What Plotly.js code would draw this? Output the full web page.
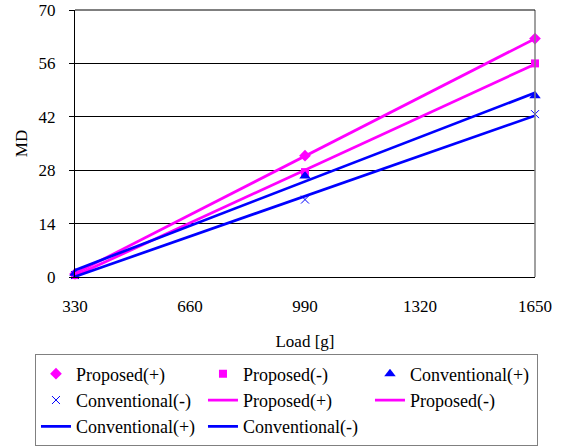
<!DOCTYPE html>
<html>
<head>
<meta charset="utf-8">
<script src="https://cdn.plot.ly/plotly-3.0.1.min.js"></script>
</head>
<body style="margin:0">
<div id="chart" style="width:568px;height:447px;"></div>
<script>
var loads = [330, 990, 1650];
var proposedPlus = [0.8, 31.8, 62.5];
var proposedMinus = [0.5, 27.5, 56.0];
var conventionalPlus = [1.0, 26.5, 47.5];
var conventionalMinus = [0.5, 20.3, 42.7];

var trendX = [330, 1650];
var trendProposedPlus = [0.9, 62.5];
var trendProposedMinus = [0.3, 55.8];
var trendConventionalPlus = [1.8, 48.3];
var trendConventionalMinus = [0.1, 42.3];

var xTicks = [330, 660, 990, 1320, 1650];
var yTicks = [0, 14, 28, 42, 56, 70];

var PINK = '#FF00FF', BLUE = '#0000FF';
var FAM = 'Liberation Serif';

var traces = [
  {x: loads, y: proposedPlus, name: 'Proposed(+)', mode: 'markers', cliponaxis: false,
   marker: {symbol: 'diamond', size: 9, color: PINK}},
  {x: loads, y: proposedMinus, name: 'Proposed(-)', mode: 'markers', cliponaxis: false,
   marker: {symbol: 'square', size: 8, color: PINK}},
  {x: loads, y: conventionalPlus, name: 'Conventional(+)', mode: 'markers', cliponaxis: false,
   marker: {symbol: 'triangle-up', size: 10, color: BLUE}},
  {x: loads, y: conventionalMinus, name: 'Conventional(-)', mode: 'markers', cliponaxis: false,
   marker: {symbol: 'x-thin', size: 8, color: BLUE, line: {color: BLUE, width: 1}}},
  {x: trendX, y: trendProposedPlus, name: 'Proposed(+)', mode: 'lines', cliponaxis: false,
   line: {color: PINK, width: 2.7}},
  {x: trendX, y: trendProposedMinus, name: 'Proposed(-)', mode: 'lines', cliponaxis: false,
   line: {color: PINK, width: 2.7}},
  {x: trendX, y: trendConventionalPlus, name: 'Conventional(+)', mode: 'lines', cliponaxis: false,
   line: {color: BLUE, width: 2.7}},
  {x: trendX, y: trendConventionalMinus, name: 'Conventional(-)', mode: 'lines', cliponaxis: false,
   line: {color: BLUE, width: 2.7}}
];

var layout = {
  width: 568, height: 447,
  margin: {l: 75, r: 33, t: 10, b: 170, autoexpand: false},
  paper_bgcolor: '#fff', plot_bgcolor: '#fff',
  font: {family: FAM, size: 17, color: '#000'},
  showlegend: true,
  xaxis: {
    range: [330, 1650], tickvals: xTicks, ticktext: xTicks.map(String),
    showgrid: false, zeroline: false, showline: true, linecolor: '#000', linewidth: 1,
    ticks: '', ticklabelstandoff: 14, automargin: false,
    tickfont: {family: FAM, size: 17, color: '#000'},
    title: {text: 'Load [g]', font: {family: FAM, size: 17, color: '#000'}, standoff: 19}
  },
  yaxis: {
    range: [0, 70], tickvals: yTicks, ticktext: yTicks.map(String),
    showgrid: true, gridcolor: '#000', gridwidth: 1, zeroline: false,
    showline: true, linecolor: '#000', linewidth: 1, automargin: false,
    ticks: 'outside', ticklen: 5, tickcolor: '#000', ticklabelstandoff: 10,
    tickfont: {family: FAM, size: 17, color: '#000'},
    title: {text: 'MD', font: {family: FAM, size: 17, color: '#000'}, standoff: 6}
  },
  shapes: [
    {type: 'line', xref: 'paper', yref: 'paper', x0: 1, x1: 1, y0: 0, y1: 1,
     line: {color: '#808080', width: 1.5}},
    {type: 'line', xref: 'paper', yref: 'paper', x0: 0, x1: 1, y0: 1, y1: 1,
     line: {color: '#000', width: 1}}
  ],
  legend: {
    orientation: 'h', x: -0.087, xanchor: 'left', y: -0.29, yanchor: 'top',
    bordercolor: '#808080', borderwidth: 1, bgcolor: '#fff',
    entrywidth: 122, entrywidthmode: 'pixels',
    font: {family: FAM, size: 18, color: '#000'},
    traceorder: 'normal'
  }
};

function draw() {
  Plotly.newPlot('chart', traces, layout, {displayModeBar: false, staticPlot: true});
}
if (document.fonts && document.fonts.load) {
  document.fonts.load('17px "Liberation Serif"').then(draw, draw);
} else {
  draw();
}
</script>
</body>
</html>
